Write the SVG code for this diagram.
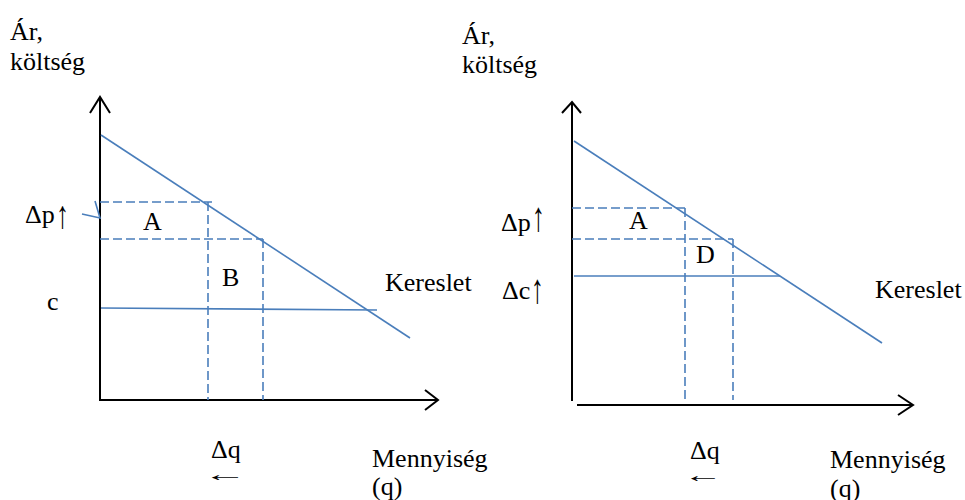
<svg xmlns="http://www.w3.org/2000/svg" width="965" height="500" viewBox="0 0 965 500">
<style>
text{font-family:"Liberation Serif","Times New Roman",serif;font-size:26px;fill:#000}
.al{font-size:20px}
.ax{stroke:#000;stroke-width:2;fill:none}
.bl{stroke:#4a7ebb;stroke-width:1.6;fill:none}
.ds{stroke:#4a7ebb;stroke-width:1.6;fill:none;stroke-dasharray:9 4}
</style>
<rect width="965" height="500" fill="#fff"/>
<g id="connectors">
<!-- left chart axes -->
<path class="ax" d="M100,97 V401 M90,113 L100,97 L110,113"/>
<path class="ax" d="M100,400 H438 M425,390 L438,400 L425,410"/>
<!-- left lines -->
<path class="bl" d="M101,135 L410,338"/>
<path class="bl" d="M101,308 L377,310"/>
<path class="ds" d="M100,202 H212 M208,202 V400 M100,239 H263 M263,239 V400"/>
<path class="bl" d="M82,214 L100,218 L95,201"/>
<!-- right chart axes -->
<path class="ax" d="M572,102 V401 M562,113 L572,102 L581,113"/>
<path class="ax" d="M577,405 H913 M898,395 L913,405 L898,415"/>
<!-- right lines -->
<path class="bl" d="M574,141 L882,343"/>
<path class="bl" d="M574,276 H780"/>
<path class="ds" d="M572,208 H685 M685,208 V400 M572,239 H733 M733,239 V400"/>
</g>
<g id="left-labels">
<text x="10" y="40">Ár,</text>
<text x="10" y="70">költség</text>
<text x="25" y="223">Δp</text>
<text transform="translate(56,228) scale(1,1.5)">↑</text>
<text x="143" y="230">A</text>
<text x="222" y="286">B</text>
<text x="47" y="310">c</text>
<text x="385" y="291">Kereslet</text>
<text x="211" y="458">Δq</text>
<text class="al" transform="translate(203,481) scale(2.2,1)">←</text>
<text x="372" y="467">Mennyiség</text>
<text x="372" y="495">(q)</text>
</g>
<g id="right-labels">
<text x="462" y="44">Ár,</text>
<text x="462" y="73">költség</text>
<text x="501" y="231">Δp</text>
<text transform="translate(532,231) scale(1,1.6)">↑</text>
<text x="629" y="229">A</text>
<text x="696" y="263">D</text>
<text x="502" y="299">Δc</text>
<text transform="translate(531,303) scale(1,1.6)">↑</text>
<text x="875" y="298">Kereslet</text>
<text x="690" y="459">Δq</text>
<text class="al" transform="translate(683,482) scale(2,1)">←</text>
<text x="830" y="468">Mennyiség</text>
<text x="830" y="497">(q)</text>
</g>
</svg>
